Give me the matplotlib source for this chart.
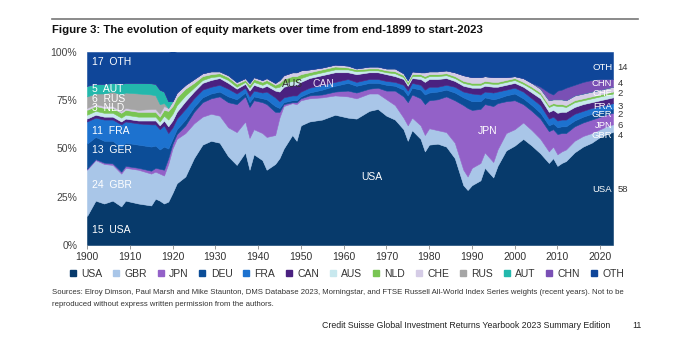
import matplotlib
matplotlib.use("Agg")
import matplotlib.pyplot as plt
from matplotlib.lines import Line2D

plt.rcParams['font.family'] = ['Liberation Sans', 'DejaVu Sans']

years = [1900, 1902, 1904, 1906, 1908, 1909, 1912, 1915, 1916, 1917, 1918, 1919,
         1920, 1921, 1923, 1925, 1927, 1929, 1931, 1933, 1935, 1937, 1938, 1939,
         1941, 1942, 1944, 1945, 1946, 1948, 1949, 1950, 1952, 1955, 1958, 1961,
         1963, 1966, 1968, 1970, 1972, 1974, 1975, 1976, 1978, 1979, 1980, 1982,
         1984, 1986, 1988, 1989, 1990, 1992, 1993, 1995, 1996, 1998, 2000, 2002,
         2004, 2006, 2008, 2009, 2010, 2011, 2012, 2014, 2016, 2018, 2020, 2022, 2023]

# market shares (% of world equity market)
usa = [15, 23, 21.5, 23, 20, 23, 21.5, 20.5, 24, 23, 21.5, 22.5,
       27, 32, 35.5, 45, 52, 54, 53, 46, 41.5, 48, 39, 47,
       44, 39, 42, 45, 50, 57, 54, 62, 64, 65, 67.5, 66,
       65.5, 69.5, 70.5, 67, 65, 60, 54, 59.5, 55, 48.5, 52, 52.5,
       51, 45, 31, 28.5, 31, 33.5, 40, 35, 41, 49, 51.5, 55,
       51.5, 47.5, 42.5, 45, 41, 42.5, 43.5, 48, 51, 53, 56, 58, 58.5]
gbr = [24, 21, 20.5, 18.5, 17, 17, 17.5, 16.5, 14, 14, 14.5, 19.5,
       23, 23, 22.5, 18, 14.5, 14, 14, 15, 17, 16, 16.5, 13,
       14, 17, 15, 21, 22, 16.5, 19, 13, 12, 11.5, 10, 11,
       10.5, 9, 8, 8.5, 7.5, 6, 8, 6.5, 7, 8.5, 8.5, 7,
       7.5, 8, 8, 7, 9, 9, 8, 8, 8.5, 9, 8.5, 8.5,
       8, 7.5, 6, 6, 6, 6, 6, 6, 5.5, 5, 4, 4, 4]
jpn = [0.5, 0.5, 0.7, 0.8, 1, 1, 1, 1.5, 2, 2.5, 3, 3,
       2.5, 2.5, 4, 6, 7.5, 8, 10, 13, 14.5, 13, 16, 15,
       16, 17, 12, 3, 1, 0.5, 1, 1, 1.5, 1.5, 2, 3,
       3, 2.5, 3, 4.5, 7.5, 11, 12, 12, 14, 16, 14.5, 16,
       18.5, 22, 33.5, 35.5, 30, 28, 25, 29, 24, 16.5, 15, 9.5,
       10, 10.5, 10.5, 9, 10.5, 9.5, 8.5, 7.5, 7, 7, 6.5, 6, 6]
deu = [13, 11.5, 11.3, 11.7, 12.5, 12, 12, 12.5, 11.5, 10, 12, 5,
       2.5, 2.5, 3, 2.5, 2.5, 2.5, 2.5, 3, 2.5, 2, 2.5, 2,
       2, 2.5, 3, 2, 1, 1, 1, 1, 1.5, 2.5, 3, 4,
       3.5, 3, 2.5, 3, 2.5, 3.5, 3.5, 3.5, 4.5, 5, 4, 4,
       3.5, 4, 4, 4.5, 4.5, 4, 3.5, 3.5, 2.5, 3, 3.5, 3,
       3, 3, 3, 3, 3.5, 3.5, 3.5, 3, 3, 3, 2.5, 2, 2]
fra = [11.5, 10, 11, 11, 12, 11, 11, 11.5, 11, 10.5, 11, 8,
       6, 5.5, 5.5, 4.5, 4, 3.5, 3.5, 4, 3, 2.5, 3, 3,
       3, 4, 4.5, 3.5, 2.5, 2.5, 2.5, 2.5, 2.5, 2.5, 2, 2,
       2, 2, 2, 2, 2, 2.5, 2.5, 2.5, 2.5, 2.5, 3, 2.5,
       2.5, 3, 3, 3.5, 4, 3.5, 3, 3.5, 3.5, 3, 3, 3.5,
       3.5, 4, 3.5, 3.5, 3.5, 3.5, 3.5, 3.5, 3, 3, 3, 3, 3]
can = [1.5, 1.5, 1.5, 1.5, 1.5, 1.5, 1.5, 2, 2, 2, 2.5, 3.5,
       3.5, 3.5, 4, 3.5, 3.5, 3.5, 3.5, 3, 2.5, 2, 3, 3,
       2.5, 3, 3.5, 5, 5.5, 5.5, 5.5, 5, 5, 5, 5, 3.5,
       4, 3.5, 3.5, 3.5, 3, 3, 2.5, 2.5, 3, 4, 4, 4,
       3.5, 3, 3, 3, 3, 3.5, 3, 3, 2.5, 2.5, 2.5, 2.5,
       3, 3.5, 3.5, 3.5, 4, 4, 4, 3.5, 3.5, 3, 3, 3, 3]
aus = [2, 2, 2, 2, 2, 2, 2, 2, 2, 2, 2.5, 3.5,
       3.5, 3.5, 3, 2, 1.5, 1.5, 1, 1.5, 1, 1, 1.5, 1.5,
       1.5, 1.5, 1.5, 2.5, 2, 2, 2, 2, 1.5, 1.5, 1.5, 1.5,
       1.5, 1, 1, 1, 1.5, 1, 1, 1, 1.5, 2, 1.5, 1.5,
       1.5, 1.5, 1.5, 1.5, 1.5, 1.5, 1.5, 1.5, 1.5, 1.5, 1.5, 1.5,
       2, 2, 2.5, 2.5, 3.5, 3, 2.5, 2.5, 2, 2, 2, 2, 2]
nld = [2.5, 2.5, 2.5, 2.5, 2.5, 2.5, 2.5, 2.5, 2.5, 2.5, 3, 4.5,
       4, 4, 3.5, 2.5, 2, 1.5, 1.5, 1.5, 1.5, 1, 1.5, 1.5,
       1.5, 1.5, 1.5, 2, 2, 2.5, 2.5, 2, 1.5, 1.5, 1.5, 1,
       1, 1, 1, 1, 1, 1, 1, 1, 1, 1, 1, 1,
       1, 1, 1, 1, 1, 1, 1, 1, 1, 1, 1, 1,
       1, 1, 1, 1, 1, 1, 1, 1, 1, 1, 1, 1, 1]
che = [1, 1, 1, 1, 1, 1, 1, 1.5, 1.5, 1.5, 2, 1.5,
       2.5, 2.5, 2, 2, 1.5, 1.5, 1, 1, 1, 1, 1, 1,
       1, 1, 1, 1.5, 2, 2, 2, 2, 1.5, 1, 1, 1,
       0.5, 1, 1, 1, 1.5, 1, 1, 1.5, 1, 2, 1.5, 1.5,
       1.5, 2, 3, 3, 3, 3, 2.5, 2.5, 2.5, 1.5, 1, 2,
       2, 2, 2.5, 2, 2.5, 2.5, 2.5, 2.5, 2.5, 2.5, 2.5, 2.5, 2.5]
rus = [6, 5.5, 6.5, 7.5, 8.5, 8, 8.5, 7.5, 7, 5, 1.5, 0] + [0] * 61
aut = [5.5, 5, 5, 4.5, 5.5, 5, 5.5, 5.8, 6, 7.5, 6, 3.5] + [0] * 61
chn = [0] * 61 + [1, 4, 2.5, 4.5, 5, 6.5, 5.5, 6, 6, 5.5, 4.5, 4]
oth = [17.5, 16.5, 16.5, 16, 16.5, 16, 16, 16.2, 16.5, 19.5, 20.5, 25.5,
       26, 21, 17, 14, 11, 10, 10, 12, 15.5, 13.5, 16, 13,
       14.5, 13.5, 16, 14.5, 12, 10.5, 10.5, 9.5, 9, 8, 6.5, 7,
       8.5, 7.5, 7.5, 8.5, 8.5, 11, 14.5, 10, 10.5, 10.5, 10, 10,
       9.5, 10.5, 12, 12.5, 13, 13, 12.5, 13, 13, 13, 12.5, 13.5,
       16, 18, 21, 22, 20, 19.5, 18.5, 17, 15.5, 14.5, 14, 14, 14]

names = ['USA', 'GBR', 'JPN', 'DEU', 'FRA', 'CAN', 'AUS', 'NLD', 'CHE', 'RUS', 'AUT', 'CHN', 'OTH']
colors = ['#073a6b', '#a9c6e8', '#9361c8', '#0c4d97', '#1d72cf', '#4a2180', '#c8e8ee',
          '#79c553', '#d5cce6', '#a5a5a5', '#23b8ac', '#7a50b5', '#0f4699']

fig = plt.figure(figsize=(6.8, 3.42), dpi=100)
ax = fig.add_axes([87 / 680, 1 - 245 / 342, 526 / 680, 193 / 342])

polys = ax.stackplot(years, usa, gbr, jpn, deu, fra, can, aus, nld, che, rus, aut, chn, oth,
                     colors=colors)
for p in polys:
    p.set_edgecolor(p.get_facecolor())
    p.set_linewidth(0.4)

ax.set_xlim(1900, 2023)
ax.set_ylim(0, 100)
ax.set_xticks(range(1900, 2021, 10))
ax.set_yticks([0, 25, 50, 75, 100])
ax.set_yticklabels(['0%', '25%', '50%', '75%', '100%'])
for s in ax.spines.values():
    s.set_visible(False)
ax.tick_params(axis='x', length=3, width=0.6, color='#888888', labelsize=7.5,
               labelcolor='#333333', pad=2)
ax.tick_params(axis='y', length=0, labelsize=7.5, labelcolor='#444444', pad=7)

# labels inside the chart
left = [('17  OTH', 94.8), ('5  AUT', 80.8), ('6  RUS', 75.6), ('3  NLD', 71),
        ('11  FRA', 59.1), ('13  GER', 49.2), ('24  GBR', 31.1), ('15  USA', 7.8)]
for txt, y in left:
    ax.text(1901.2, y, txt, color='white', fontsize=7.5, va='center', ha='left')
ax.text(1948, 83.4, 'AUS', color='#333333', fontsize=7.5, va='center', ha='center')
ax.text(1955.2, 83.4, 'CAN', color='#e8e0f5', fontsize=7.5, va='center', ha='center')
ax.text(1966.7, 35.2, 'USA', color='white', fontsize=7.5, va='center', ha='center')
ax.text(1993.6, 59.1, 'JPN', color='white', fontsize=7.5, va='center', ha='center')

right = [('OTH', '14', 92.2), ('CHN', '4', 83.6), ('CHE', '2', 78.6), ('FRA', '3', 72.0),
         ('GER', '2', 67.4), ('JPN', '6', 61.9), ('GBR', '4', 56.6), ('USA', '58', 28.5)]
for name, val, y in right:
    ax.text(2022.8, y, name, color='white', fontsize=6.8, va='center', ha='right')
    ax.text(2024.1, y, val, color='#333333', fontsize=6.8, va='center', ha='left',
            clip_on=False)

# legend
handles = [Line2D([], [], marker='s', linestyle='none', markersize=4.5,
                  markerfacecolor=c, markeredgecolor=c) for c in colors]
fig.legend(handles, names, loc='center', bbox_to_anchor=(346 / 680, 1 - 274 / 342),
           ncol=13, frameon=False, fontsize=7.5, handletextpad=0.3, columnspacing=0.82,
           handlelength=1.0, labelcolor='#333333')

# title, rule, notes
fig.add_artist(Line2D([52 / 680, 638 / 680], [1 - 19 / 342, 1 - 19 / 342],
                      color='#777777', lw=1.2))
fig.text(52 / 680, 1 - 30 / 342,
         'Figure 3: The evolution of equity markets over time from end-1899 to start-2023',
         fontsize=8.2, fontweight='bold', va='center', ha='left', color='#111111')
fig.text(52 / 680, 1 - 293 / 342,
         'Sources: Elroy Dimson, Paul Marsh and Mike Staunton, DMS Database 2023, Morningstar, '
         'and FTSE Russell All-World Index Series weights (recent years). Not to be',
         fontsize=5.6, va='center', ha='left', color='#333333')
fig.text(52 / 680, 1 - 304 / 342,
         'reproduced without express written permission from the authors.',
         fontsize=5.6, va='center', ha='left', color='#333333')
fig.text(610 / 680, 1 - 326 / 342,
         'Credit Suisse Global Investment Returns Yearbook 2023 Summary Edition',
         fontsize=6.3, va='center', ha='right', color='#222222')
fig.text(632 / 680, 1 - 326 / 342, '11', fontsize=6.3, va='center', ha='left', color='#222222')

fig.savefig('out.png', dpi=100)
